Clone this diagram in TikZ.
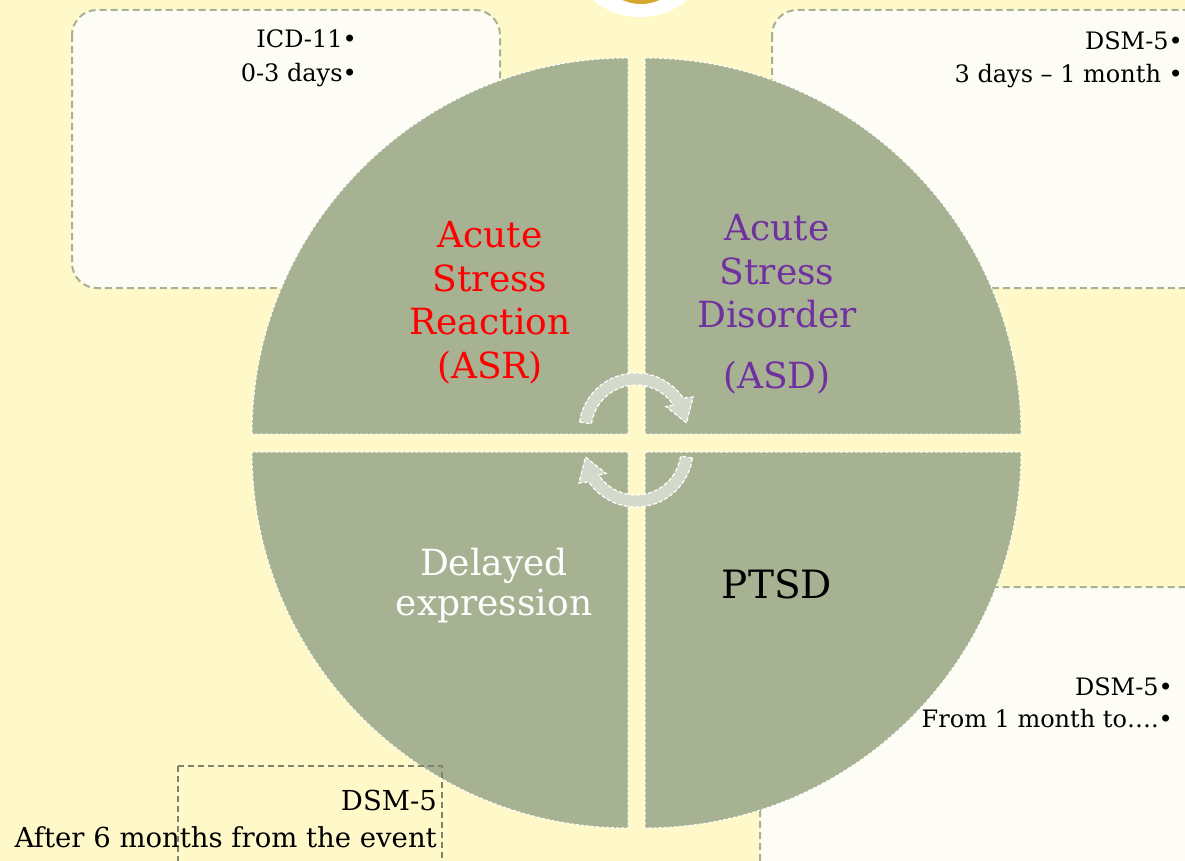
\documentclass[tikz,border=0pt]{standalone}
\usepackage{fontspec}
\setmainfont{DejaVu Serif}
\usetikzlibrary{calc}

\definecolor{bgyellow}{RGB}{255,249,202}
\definecolor{sage}{RGB}{166,178,146}
\definecolor{sagelight}{RGB}{212,218,203}
\definecolor{boxfill}{RGB}{253,253,245}
\definecolor{asdpurple}{RGB}{112,48,160}
\definecolor{badgegold}{RGB}{214,169,46}
\definecolor{framegray}{RGB}{128,130,112}

\begin{document}
\begin{tikzpicture}[x=1pt, y=-1pt,
    quad/.style={fill=sage, draw=white, line width=1pt, dash pattern=on 3pt off 2pt},
    cyc/.style={fill=sagelight, draw=white, line width=1.2pt, dash pattern=on 4pt off 2pt},
    infobox/.style={fill=boxfill, draw=sage, line width=2pt, dash pattern=on 7pt off 4pt, rounded corners=25pt},
    big/.style={font=\fontsize{36}{43.5}\selectfont, align=center, anchor=base, inner sep=0pt},
    small/.style={font=\fontsize{24}{34}\selectfont, align=right, anchor=base east, inner sep=0pt}]

  \clip (0,0) rectangle (1185,861);
  \fill[bgyellow] (0,0) rectangle (1185,861);

  % badge at the top
  \fill[white] (640,-58) circle[radius=75];
  \fill[badgegold] (641,-41) circle[radius=45];

  % time boxes
  \draw[infobox] (72,10) rectangle (500,288);
  \draw[infobox] (772,10) rectangle (1210,288);
  \draw[infobox] (760,587) rectangle (1210,890);

  % the four quarters
  \draw[quad] (628,434) -- (252,434) arc[start angle=180, end angle=270, radius=376] -- cycle;
  \draw[quad] (645,434) -- (645,58) arc[start angle=270, end angle=360, radius=376] -- cycle;
  \draw[quad] (645,452) -- (1021,452) arc[start angle=0, end angle=90, radius=376] -- cycle;
  \draw[quad] (628,452) -- (628,828) arc[start angle=90, end angle=180, radius=376] -- cycle;

  % cycle arrows
  \foreach \cy/\rot in {430/0, 450/180}
    \draw[cyc, shift={(636,\cy)}, rotate=\rot] (-172:57) arc[start angle=-172, end angle=-34, radius=57]
      -- (-30:66) -- (-8:51) -- (-38:38) -- (-34:45) arc[start angle=-34, end angle=-172, radius=45] -- cycle;

  \node[big, text=red] (asr) at (490,378) {Acute\\Stress\\Reaction\\(ASR)};
  \node[big, text=asdpurple] (asd) at (777,388) {Acute\\Stress\\Disorder\\[17pt](ASD)};
  \node[big, text=white, font=\fontsize{36}{40}\selectfont] (delayed) at (494,615) {Delayed\\expression};
  \node[big, font=\fontsize{39}{44}\selectfont] (ptsd) at (777,598) {PTSD};

  \node[small] (icd) at (357,82) {ICD-11•\\0-3 days•};
  \node[small, font=\fontsize{24}{33}\selectfont] (dsmasd) at (1183,83) {DSM-5•\\3 days – 1 month •};
  \node[small, font=\fontsize{24}{32}\selectfont] (dsmptsd) at (1173,727) {DSM-5•\\From 1 month to….•};

  \draw[framegray, line width=1.5pt, dash pattern=on 6pt off 4pt] (178,766) rectangle (442,900);
  \node[small, font=\fontsize{27.5}{37}\selectfont] (dsmdelayed) at (437,847) {DSM-5\\After 6 months from the event};
\end{tikzpicture}
\end{document}
